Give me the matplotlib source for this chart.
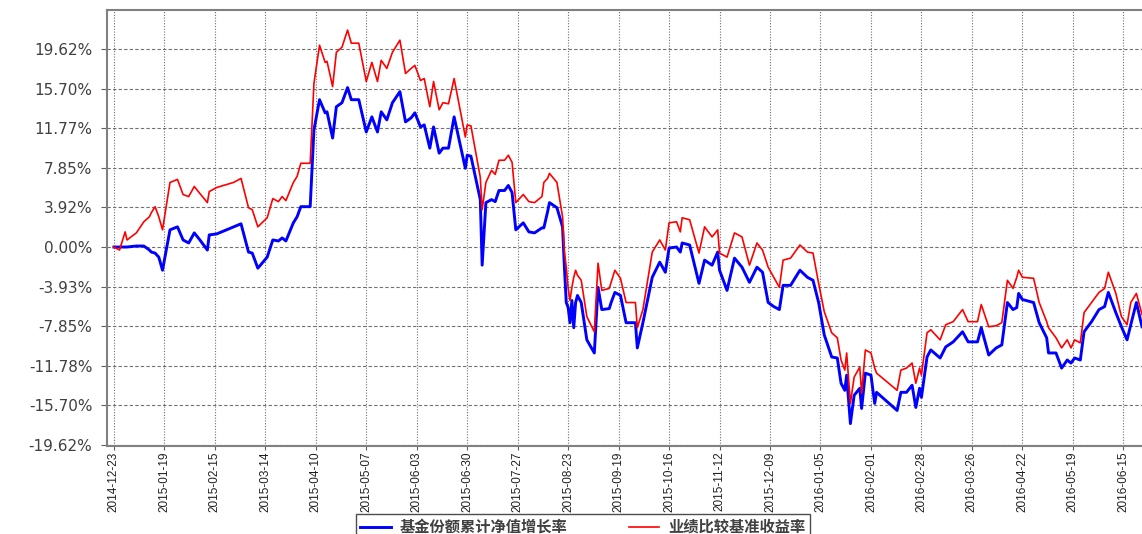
import matplotlib
matplotlib.use('Agg')
import matplotlib.pyplot as plt
import matplotlib.dates as mdates
import numpy as np
import pandas as pd

plt.rcParams['font.family'] = ['Noto Sans CJK SC', 'DejaVu Sans']

start = '2014-12-23'

# calendar days after the start date
days = [0, 3, 6, 7, 12, 16, 19, 20, 22, 24, 26, 30, 34, 37, 40, 43, 46, 50, 51, 55,
        64, 68, 72, 74, 77, 82, 85, 88, 90, 92, 96, 98, 100, 105, 107, 110, 113, 114,
        117, 119, 122, 125, 127, 131, 135, 138, 141, 143, 146, 149, 153, 156, 159, 161,
        164, 166, 169, 171, 174, 176, 179, 182, 188, 189, 191, 196, 197, 199, 202, 204,
        206, 209, 211, 213, 215, 219, 222, 225, 229, 230, 232, 233, 237, 240, 241, 242,
        243, 244, 245, 246, 247, 248, 250, 253, 257, 259, 261, 265, 266, 268, 271, 274,
        279, 280, 283, 288, 292, 295, 297, 301, 303, 304, 308, 313, 316, 320, 323, 324,
        328, 332, 336, 340, 344, 347, 350, 353, 356, 358, 362, 367, 371, 374, 377, 380,
        384, 387, 389, 391, 392, 394, 396, 399, 400, 402, 405, 407, 408, 419, 421, 424,
        427, 429, 431, 432, 435, 437, 442, 445, 449, 454, 457, 462, 464, 468, 472, 475,
        478, 481, 483, 484, 486, 492, 495, 499, 500, 504, 507, 510, 512, 514, 517, 519,
        523, 527, 530, 532, 536, 539, 542, 544, 547, 550]

# 基金份额累计净值增长率 (%)
nav = [0.0, 0.0, 0.0, 0.0, 0.1, 0.1, -0.3, -0.5, -0.6, -1.0, -2.3, 1.7, 2.0, 0.7, 0.4,
       1.4, 0.7, -0.3, 1.2, 1.3, 2.0, 2.3, -0.5, -0.6, -2.1, -1.0, 0.7, 0.6, 0.9, 0.6,
       2.4, 3.0, 4.0, 4.0, 11.6, 14.6, 13.3, 13.4, 10.8, 13.9, 14.3, 15.8, 14.6, 14.6,
       11.4, 12.9, 11.4, 13.4, 12.6, 14.3, 15.4, 12.4, 12.8, 13.3, 11.9, 12.1, 9.8, 11.9,
       9.3, 9.8, 9.8, 12.9, 7.8, 9.1, 9.0, 4.7, -1.8, 4.4, 4.7, 4.5, 5.6, 5.6, 6.1, 5.4,
       1.7, 2.4, 1.5, 1.4, 1.9, 1.9, 3.5, 4.4, 3.9, 2.0, -2.0, -5.5, -6.0, -7.5, -5.3,
       -8.0, -5.5, -4.8, -5.5, -9.2, -10.5, -4.0, -6.2, -6.1, -5.5, -4.5, -4.8, -7.5,
       -7.5, -10.0, -7.5, -3.0, -1.5, -2.5, -0.1, 0.0, -0.5, 0.4, 0.2, -3.6, -1.3, -1.8,
       -0.5, -2.3, -4.3, -1.1, -2.0, -3.5, -2.0, -2.5, -5.5, -5.9, -6.2, -3.8, -3.8, -2.3,
       -3.0, -3.3, -5.5, -8.7, -10.9, -11.0, -13.5, -14.2, -12.7, -17.5, -14.7, -14.0,
       -16.0, -12.5, -12.7, -15.5, -14.4, -16.2, -14.4, -14.4, -13.7, -15.9, -14.0, -14.9,
       -10.9, -10.2, -11.0, -9.9, -9.4, -8.4, -9.4, -9.4, -8.0, -10.7, -10.0, -9.7, -5.5,
       -6.2, -6.0, -4.6, -5.2, -5.5, -7.5, -9.0, -10.5, -10.5, -12.0, -11.2, -11.5, -11.0,
       -11.2, -8.4, -7.4, -6.2, -5.9, -4.5, -6.5, -7.9, -9.2, -7.7, -5.5, -7.9]

# 业绩比较基准收益率 (%)
bench = [0.0, -0.3, 1.5, 0.7, 1.4, 2.5, 3.0, 3.4, 4.0, 3.0, 1.7, 6.4, 6.7, 5.2, 5.0,
         6.0, 5.3, 4.4, 5.5, 5.9, 6.4, 6.8, 3.9, 3.7, 2.0, 2.9, 4.8, 4.5, 5.0, 4.6, 6.4,
         7.0, 8.3, 8.3, 16.2, 20.0, 18.3, 18.4, 15.9, 19.3, 19.8, 21.5, 20.2, 20.2, 16.4,
         18.3, 16.4, 18.5, 17.7, 19.3, 20.5, 17.2, 17.7, 18.0, 16.5, 16.7, 13.9, 16.4,
         13.6, 14.3, 14.2, 16.7, 10.9, 12.1, 12.0, 6.9, 3.7, 6.4, 7.6, 7.2, 8.6, 8.6, 9.1,
         8.4, 4.4, 5.2, 4.5, 4.4, 5.0, 6.4, 6.8, 7.3, 6.4, 3.0, -0.5, -2.0, -4.1, -5.3,
         -4.0, -3.0, -2.3, -2.8, -3.3, -6.9, -8.4, -1.6, -4.3, -4.1, -3.5, -2.3, -3.1,
         -5.5, -5.5, -8.0, -6.2, -0.5, 0.7, -0.3, 2.4, 2.5, 1.5, 2.9, 2.7, -0.6, 2.0, 1.0,
         1.7, -0.6, -1.0, 1.4, 1.0, -1.8, 0.4, -0.3, -2.0, -3.0, -4.0, -1.3, -1.1, 0.2,
         -0.5, -0.6, -3.6, -6.4, -8.5, -9.0, -11.2, -12.2, -10.5, -15.5, -12.9, -11.9,
         -14.5, -10.2, -10.5, -12.0, -12.5, -14.2, -12.2, -12.0, -11.5, -13.5, -12.0,
         -12.7, -8.5, -8.2, -9.2, -7.7, -7.4, -6.2, -7.4, -7.4, -5.7, -7.9, -7.8, -7.5,
         -3.3, -4.1, -3.0, -2.3, -3.0, -3.1, -5.5, -7.4, -8.0, -9.0, -10.0, -9.2, -10.0,
         -9.2, -9.5, -6.5, -5.5, -4.5, -4.1, -2.5, -4.6, -6.9, -7.7, -5.5, -4.6, -6.7]

yticks = [-19.62, -15.70, -11.78, -7.85, -3.93, 0.00, 3.92, 7.85, 11.77, 15.70, 19.62]
tick_step = 27
n_ticks = 21
labels = ['基金份额累计净值增长率', '业绩比较基准收益率']

t0 = pd.Timestamp(start)
dates = t0 + pd.to_timedelta(days, unit='D')
xticks = [t0 + pd.Timedelta(days=tick_step * i) for i in range(n_ticks)]

fig = plt.figure(figsize=(11.42, 5.34), dpi=100)
ax = fig.add_axes([107 / 1142, 1 - 446 / 534, 1 - 107 / 1142, 436 / 534])

ax.plot(dates, nav, color='#0000ff', lw=2.1, label=labels[0], zorder=3)
ax.plot(dates, bench, color='#ff0000', lw=1.2, label=labels[1], zorder=4)

ax.set_ylim(-19.72, 23.49)
ax.set_xlim(t0 - pd.Timedelta(days=3.7), dates[-1])

ax.set_yticks(yticks)
ax.set_yticklabels(['%.2f%%' % v for v in yticks], family='DejaVu Sans',
                   fontsize=11, color='#404040')
ax.set_xticks(xticks)
ax.xaxis.set_major_formatter(mdates.DateFormatter('%Y-%m-%d'))
for lab in ax.get_xticklabels():
    lab.set_rotation(90)
    lab.set_family(['Liberation Sans Narrow', 'Liberation Sans'])
    lab.set_fontsize(8.5)
    lab.set_color('#202020')

ax.tick_params(axis='y', length=4, pad=6.5, color='#606060')
ax.tick_params(axis='x', length=3, pad=1, color='#606060')

ax.grid(axis='y', color='#707070', lw=0.8, dashes=(3, 2))
ax.grid(axis='x', color='#707070', lw=0.8, dashes=(1, 1.5))
ax.set_axisbelow(True)

for side in ['left', 'top', 'bottom']:
    ax.spines[side].set_color('#808080')
    ax.spines[side].set_linewidth(1.5)
ax.spines['right'].set_visible(False)

leg = fig.legend(loc='center', bbox_to_anchor=(583 / 1142, 1 - 527 / 534),
                 ncol=2, frameon=True, fancybox=False, handlelength=2.0,
                 columnspacing=4.0, borderpad=0.3, handletextpad=0.6,
                 prop={'family': ['Noto Sans CJK SC', 'DejaVu Sans'],
                       'size': 11, 'weight': 'bold'})
leg.get_frame().set_edgecolor('#202020')
leg.get_frame().set_linewidth(1.0)
for txt in leg.get_texts():
    txt.set_color('#404040')

fig.savefig('out.png', dpi=100)
